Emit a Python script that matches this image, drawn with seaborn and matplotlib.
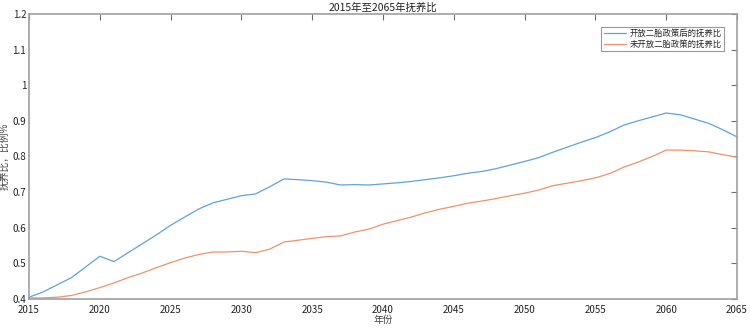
import numpy as np
import pandas as pd
import matplotlib
matplotlib.use("Agg")
import matplotlib.pyplot as plt
import seaborn as sns

# ------------------------------
#   data
# ------------------------------
years = list(range(2015, 2066))

after_policy = [0.405, 0.420, 0.440, 0.460, 0.490, 0.520, 0.505, 0.530, 0.555, 0.580,
                0.607, 0.630, 0.653, 0.670, 0.680, 0.690, 0.695, 0.715, 0.737, 0.735,
                0.732, 0.728, 0.720, 0.721, 0.720, 0.723, 0.726, 0.730, 0.735, 0.740,
                0.746, 0.753, 0.758, 0.766, 0.776, 0.786, 0.797, 0.812, 0.826, 0.840,
                0.853, 0.869, 0.888, 0.900, 0.911, 0.922, 0.917, 0.905, 0.893, 0.875,
                0.855]

before_policy = [0.403, 0.403, 0.405, 0.410, 0.420, 0.432, 0.445, 0.460, 0.473, 0.488,
                 0.502, 0.515, 0.525, 0.532, 0.532, 0.534, 0.530, 0.540, 0.560, 0.565,
                 0.570, 0.575, 0.577, 0.588, 0.596, 0.610, 0.620, 0.630, 0.642, 0.652,
                 0.660, 0.669, 0.675, 0.682, 0.690, 0.697, 0.706, 0.718, 0.725, 0.732,
                 0.740, 0.752, 0.770, 0.784, 0.800, 0.818, 0.818, 0.816, 0.813, 0.805,
                 0.798]

series_names = ["开放二胎政策后的抚养比", "未开放二胎政策的抚养比"]
x_ticks = list(range(2015, 2066, 5))
y_ticks = [0.4, 0.5, 0.6, 0.7, 0.8, 0.9, 1.0, 1.1, 1.2]
y_tick_labels = ["0.4", "0.5", "0.6", "0.7", "0.8", "0.9", "1", "1.1", "1.2"]

df = pd.DataFrame({
    "年份": years * 2,
    "value": after_policy + before_policy,
    "series": [series_names[0]] * len(years) + [series_names[1]] * len(years),
})

sns.set_style("white")
plt.rcParams["font.family"] = ["Noto Sans CJK SC", "DejaVu Sans"]

fig = plt.figure(figsize=(7.5, 3.28), dpi=100)
ax = fig.add_axes([0.0387, 0.0884, 0.944, 0.869])

sns.lineplot(data=df, x="年份", y="value", hue="series",
             palette=["#5fa2dd", "#f0916c"], linewidth=0.9, ax=ax)

ax.set_xlim(2015, 2065)
ax.set_ylim(0.4, 1.2)
ax.set_xticks(x_ticks)
ax.set_yticks(y_ticks)
ax.set_yticklabels(y_tick_labels)

gray = "#a0a0a0"
for s in ax.spines.values():
    s.set_visible(True)
    s.set_color(gray)
    s.set_linewidth(1.2)
ax.tick_params(direction="in", length=4, width=0.8, color="#707070",
               labelsize=7, labelcolor="#222222", top=True, right=True)
ax.tick_params(axis="x", pad=4)
ax.tick_params(axis="y", pad=2)

ax.set_title("2015年至2065年抚养比", fontsize=7.5, pad=2, color="#222222")
ax.set_xlabel("年份", fontsize=7, color="#444444", labelpad=0)
ax.set_ylabel("抚养比，比例%", fontsize=7, color="#444444", labelpad=2)

leg = ax.legend(loc="upper right", fontsize=6, frameon=True, fancybox=False,
                borderpad=0.3, handlelength=2.6, handletextpad=0.5, labelspacing=0.15,
                bbox_to_anchor=(0.988, 0.97))
leg.get_frame().set_edgecolor("#808080")
leg.get_frame().set_linewidth(0.8)

fig.savefig("out.png", dpi=100)
